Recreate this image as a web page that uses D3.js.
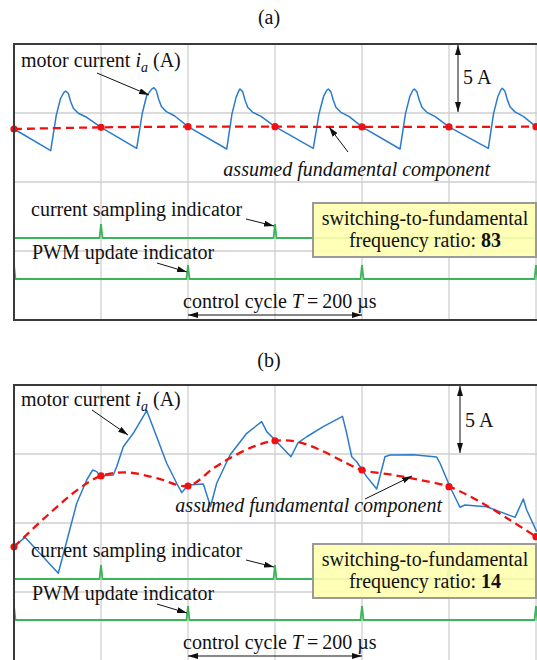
<!DOCTYPE html>
<html>
<head>
<meta charset="utf-8">
<script src="https://cdn.jsdelivr.net/npm/d3@7"></script>
<style>
body { margin: 0; background: #fff; }
svg text { font-family: "Liberation Serif", "Times New Roman", serif; font-size: 20px; fill: #111; }
</style>
</head>
<body>
<script>
// grid: time in µs, current in A
const timeTicks = [0, 100, 200, 300, 400, 500, 600]
const ampTicks = [-10, -5, 0, 5, 10]

// (a) ratio 83 -- motor current [t (µs), i (A)]
const currentA = [
    [0, 3.84], [42.2, 2.27], [48.6, 4.85], [53.5, 6.05], [57.6, 6.52], [59.4, 6.59], [62.4, 6.43], [65.2, 5.82], [68.2, 5.34], [73.9, 4.98], [83.6, 4.69],
    [100, 3.96], [141.0, 2.44], [147.5, 5.0], [152.5, 6.25], [158.5, 6.75], [160.9, 6.83], [163.6, 6.62], [166.4, 5.98], [169.4, 5.47], [175.2, 5.1], [184.8, 4.78],
    [200, 4.01], [244.5, 2.39], [250.6, 4.95], [255.4, 6.15], [258.5, 6.62], [259.8, 6.74], [262.8, 6.55], [265.6, 5.92], [268.6, 5.42], [274.4, 5.05], [284, 4.76],
    [300, 4.01], [344.0, 2.44], [350.6, 4.95], [355.8, 6.2], [359.5, 6.65], [361.3, 6.74], [364.2, 6.55], [367, 5.92], [370, 5.42], [375.8, 5.05], [385.4, 4.74],
    [400, 3.99], [443.7, 2.39], [450, 4.95], [455, 6.2], [458.5, 6.65], [460.1, 6.74], [463, 6.55], [465.9, 5.92], [468.9, 5.42], [474.6, 5.05], [484.2, 4.74],
    [500, 3.99], [545.2, 2.44], [551.2, 4.95], [556.2, 6.2], [559.8, 6.7], [561.3, 6.79], [564.2, 6.6], [567.1, 5.95], [570.1, 5.45], [575.8, 5.08], [585.4, 4.76],
    [600, 4.01]
]
const samplesA = [[0, 3.84], [100, 3.96], [200, 4.01], [300, 4.01], [400, 3.99], [500, 3.99], [600, 4.01]]
const fundamentalA = samplesA
const samplingTimesA = [100, 300, 500]
const pwmTimesA = [0, 200, 400, 600]
const ratioA = "83"

// (b) ratio 14
const currentB = [
    [0, -1.72], [12.6, -1.04], [50.9, -3.64], [72.1, 1.43], [83.6, 3.12], [90.5, 3.84], [95.1, 3.72], [98.9, 3.41],
    [114.1, 3.48], [118, 4.08], [125.6, 5.53], [137.1, 6.5], [152.5, 8.15], [164, 6.25], [175.5, 4.33], [187, 2.88],
    [192.8, 2.2], [198.5, 2.63], [200.3, 2.75], [217.6, 2.83], [225.9, 1.2], [233, 2.88], [248.3, 4.93], [267.5, 6.5],
    [284.7, 7.34], [290.5, 6.62], [302, 5.89], [318.4, 4.8], [326.4, 5.8], [336.4, 6.25], [355.5, 6.98], [377.6, 7.73],
    [382.4, 6.5], [388.2, 4.8], [393.9, 4.44], [405.4, 3.36], [416.9, 2.46], [426.4, 4.8], [432.2, 4.93], [459, 4.95],
    [485.9, 4.78], [489.7, 4.33], [501.1, 2.63], [512.6, 1.14], [518.4, 1.3], [543.3, 1.18], [575.9, 0.41], [585.4, 1.74],
    [589.3, 0.94], [600.8, -0.63]
]
const samplesB = [[0, -1.72], [100, 3.41], [200, 2.68], [300, 5.96], [400, 3.84], [500, 2.63], [600, -0.99]]
const fundamentalB = [
    [0, -1.72], [41.4, 0.72], [75.9, 2.54], [100, 3.41], [129.5, 3.66], [164, 3.26], [200, 2.68], [229, 3.96],
    [248, 4.69], [275, 5.53], [300, 5.96], [325, 5.89], [352, 5.29], [382.4, 4.33], [400, 3.84], [436, 3.48],
    [466.7, 3.12], [500, 2.63], [531.8, 1.67], [570, 0.22], [600, -0.99]
]
const samplingTimesB = [100, 300, 500]
const pwmTimesB = [0, 200, 400, 600]
const ratioB = "14"

const width = 537, height = 660
const blue = "#2b7bcc", red = "#f01010", green = "#3cb45a"

const svg = d3.select("body").append("svg")
    .attr("width", width)
    .attr("height", height)

const defs = svg.append("defs")
defs.append("marker")
    .attr("id", "ah")
    .attr("viewBox", "0 0 10 6")
    .attr("refX", 10).attr("refY", 3)
    .attr("markerWidth", 10).attr("markerHeight", 6)
    .attr("markerUnits", "userSpaceOnUse")
    .attr("orient", "auto-start-reverse")
    .append("path").attr("d", "M0,0L10,3L0,6Z").attr("fill", "#111")

function arrow(g, x1, y1, x2, y2, both) {
    const l = g.append("line")
        .attr("x1", x1).attr("y1", y1).attr("x2", x2).attr("y2", y2)
        .attr("stroke", "#111").attr("stroke-width", 1)
        .attr("marker-end", "url(#ah)")
    if (both) l.attr("marker-start", "url(#ah)")
}

//one oscilloscope panel
function drawPanel(p) {
    const top = p.top
    const x = d3.scaleLinear().domain([0, 600]).range([14, 536])
    const y = d3.scaleLinear().domain([-10, 10]).range([top + 276, top])
    const g = svg.append("g")

    g.append("text").attr("x", 269).attr("y", p.titleY)
        .attr("text-anchor", "middle").text(p.title)

    //grid
    g.selectAll(".vg").data(timeTicks).enter().append("line")
        .attr("x1", d => x(d)).attr("x2", d => x(d))
        .attr("y1", top).attr("y2", top + 276)
        .attr("stroke", "#cfcfcf").attr("stroke-width", 1.3)
    g.selectAll(".hg").data(ampTicks).enter().append("line")
        .attr("x1", 14).attr("x2", 545)
        .attr("y1", d => y(d)).attr("y2", d => y(d))
        .attr("stroke", "#cfcfcf").attr("stroke-width", 1.3)

    //indicator traces
    const spike = (times, base) => {
        let d = "M" + x(0) + "," + base
        times.forEach(t => {
            const cx = x(t)
            d += "L" + Math.max(x(0), cx - 1.5) + "," + base + "L" + cx + "," + (base - 14) + "L" + (cx + 1.5) + "," + base
        })
        return d + "L545," + base
    }
    g.append("path").attr("d", spike(p.sampling, top + 194))
        .attr("fill", "none").attr("stroke", green).attr("stroke-width", 1.8)
    g.append("path").attr("d", spike(p.pwm, top + 235))
        .attr("fill", "none").attr("stroke", green).attr("stroke-width", 1.8)

    //current and fundamental
    const line = d3.line().x(d => x(d[0])).y(d => y(d[1]))
    g.append("path").datum(p.current)
        .attr("d", line)
        .attr("fill", "none").attr("stroke", blue).attr("stroke-width", 1.5)
        .attr("stroke-linejoin", "round")
    g.append("path").datum(p.fundamental)
        .attr("d", line.curve(d3.curveCatmullRom))
        .attr("fill", "none").attr("stroke", red).attr("stroke-width", 2.3)
        .attr("stroke-dasharray", "8,5")
    g.selectAll(".dot").data(p.samples).enter().append("circle")
        .attr("cx", d => x(d[0])).attr("cy", d => y(d[1]))
        .attr("r", 3.6).attr("fill", red)

    //frame
    g.append("rect").attr("x", 14).attr("y", top)
        .attr("width", 540).attr("height", 276)
        .attr("fill", "none").attr("stroke", "#3a3a3a").attr("stroke-width", 2)

    //labels
    const mc = g.append("text").attr("x", 21).attr("y", top + p.motorDy)
    mc.append("tspan").text("motor current ")
    mc.append("tspan").attr("font-style", "italic").text("i")
    mc.append("tspan").attr("font-style", "italic").attr("font-size", 14).attr("dy", 5).text("a")
    mc.append("tspan").attr("dy", -5).text(" (A)")
    arrow(g, p.motorArrow[0], top + p.motorArrow[1], p.motorArrow[2], top + p.motorArrow[3])

    g.append("text").attr("x", p.fiveX + 5).attr("y", top + p.fiveDy).text("5\u2009A")
    arrow(g, p.fiveX, y(10) + 1, p.fiveX, y(5) - 1, true)

    g.append("text").attr("x", p.fundX).attr("y", top + p.fundDy)
        .attr("text-anchor", "end").attr("font-style", "italic")
        .text("assumed fundamental component")
    arrow(g, p.fundArrow[0], top + p.fundArrow[1], p.fundArrow[2], top + p.fundArrow[3])

    g.append("text").attr("x", 31).attr("y", top + 172).text("current sampling indicator")
    arrow(g, 246, top + 175, x(300) - 1, top + 182)
    g.append("text").attr("x", 32).attr("y", top + 215).text("PWM update indicator")
    arrow(g, 157, top + 219, x(200) - 1, top + 228)

    //ratio box
    g.append("rect").attr("x", 313).attr("y", top + 159)
        .attr("width", 223).attr("height", 54)
        .attr("fill", "#ffffb0").attr("fill-opacity", 0.9)
        .attr("stroke", "#9a9a9a").attr("stroke-width", 2)
    g.append("text").attr("x", 425).attr("y", top + 181)
        .attr("text-anchor", "middle").text("switching-to-fundamental")
    const fr = g.append("text").attr("x", 425).attr("y", top + 203)
        .attr("text-anchor", "middle")
    fr.append("tspan").text("frequency ratio: ")
    fr.append("tspan").attr("font-weight", "bold").text(p.ratio)

    //control cycle
    const cc = g.append("text").attr("x", 183).attr("y", top + 264)
    cc.append("tspan").text("control cycle ")
    cc.append("tspan").attr("font-style", "italic").text("T")
    cc.append("tspan").text("\u2009=\u2009200 \u00b5s")
    arrow(g, x(200), top + 271, x(400), top + 271, true)
}

drawPanel({
    top: 44, title: "(a)", titleY: 24,
    current: currentA, fundamental: fundamentalA, samples: samplesA,
    sampling: samplingTimesA, pwm: pwmTimesA, ratio: ratioA,
    motorDy: 23, motorArrow: [97, 29, 149, 51],
    fiveX: 458, fiveDy: 40,
    fundX: 490, fundDy: 132, fundArrow: [348, 108, 329, 83]
})
drawPanel({
    top: 385, title: "(b)", titleY: 367,
    current: currentB, fundamental: fundamentalB, samples: samplesB,
    sampling: samplingTimesB, pwm: pwmTimesB, ratio: ratioB,
    motorDy: 21, motorArrow: [92, 25, 128, 50],
    fiveX: 460, fiveDy: 42,
    fundX: 442, fundDy: 127, fundArrow: [365, 114, 412, 91]
})
</script>
</body>
</html>
